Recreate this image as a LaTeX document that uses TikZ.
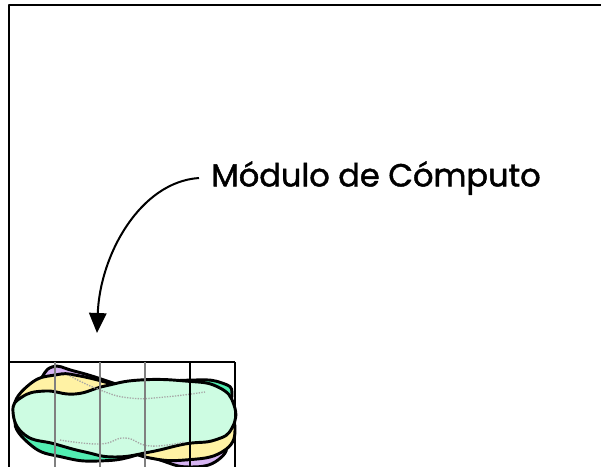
\documentclass[tikz,border=0pt]{standalone}
\usepackage{fontspec}
\setmainfont{Poppins}
\newfontfamily\labelfont[FakeBold=1.4]{Poppins}
\usetikzlibrary{arrows.meta}
\definecolor{lilac}{HTML}{D6B4F2}
\definecolor{butter}{HTML}{FFF2A4}
\definecolor{aqua}{HTML}{52EEB2}
\definecolor{mint}{HTML}{CDFCE2}
\begin{document}
\begin{tikzpicture}[x=0.75pt, y=-0.75pt, line join=round,
  frame/.style={line width=1.8pt},
  cell/.style={draw=gray, line width=1pt},
  band/.style={draw=black, line width=2.2pt},
  trace/.style={densely dotted, gray!70, line width=1pt},
  arr/.style={-{Triangle[length=15pt, width=13pt]}, line width=1.5pt}]
\useasboundingbox (0,0) rectangle (601,467);
\draw[frame] (9,467) -- (9,5) -- (601,5);
\draw[band, fill=lilac] plot[smooth cycle, tension=0.8] coordinates {(38,382) (52,367) (74,371) (110,382) (160,400) (205,420) (226,440) (218,460) (190,467) (160,460) (120,444) (70,428) (30,420) (20,398)};
\draw[band, fill=butter] plot[smooth cycle, tension=0.8] coordinates {(14,408) (30,384) (55,375) (80,376) (130,389) (180,403) (222,412) (235,430) (222,452) (185,460) (150,458) (120,448) (70,432) (30,425)};
\draw[band, fill=aqua] plot[smooth cycle, tension=0.8] coordinates {(16,420) (32,446) (62,457) (98,461) (140,454) (190,432) (222,412) (232,393) (222,383) (195,380) (150,385) (100,402) (50,412)};
\draw[band, fill=mint] plot[smooth cycle, tension=0.8] coordinates {(13,412) (22,397) (45,391) (75,394) (105,386) (140,380) (185,381) (218,387) (234,405) (232,428) (215,440) (185,444) (150,452) (115,457) (85,452) (55,444) (25,435)};
\draw[trace] plot[smooth, tension=0.8] coordinates {(70,376) (100,390) (130,398) (165,397) (205,392)};
\draw[trace] plot[smooth, tension=0.8] coordinates {(60,440) (100,444) (125,438) (150,446) (185,442)};
\draw[line width=1pt] (9,362) -- (235,362) (235,362) -- (235,467) (190,362) -- (190,467);
\foreach \x in {55,100,145} \draw[cell] (\x,362) -- (\x,467);
\node[anchor=west, inner xsep=9pt, inner ysep=0pt, font=\labelfont\fontsize{24}{29}\selectfont] (label) at (199,178) {Módulo de Cómputo};
\coordinate (tip) at (97,333);
\draw[arr] (label.west) .. controls (140,182) and (100,255) .. (tip);
\end{tikzpicture}
\end{document}
